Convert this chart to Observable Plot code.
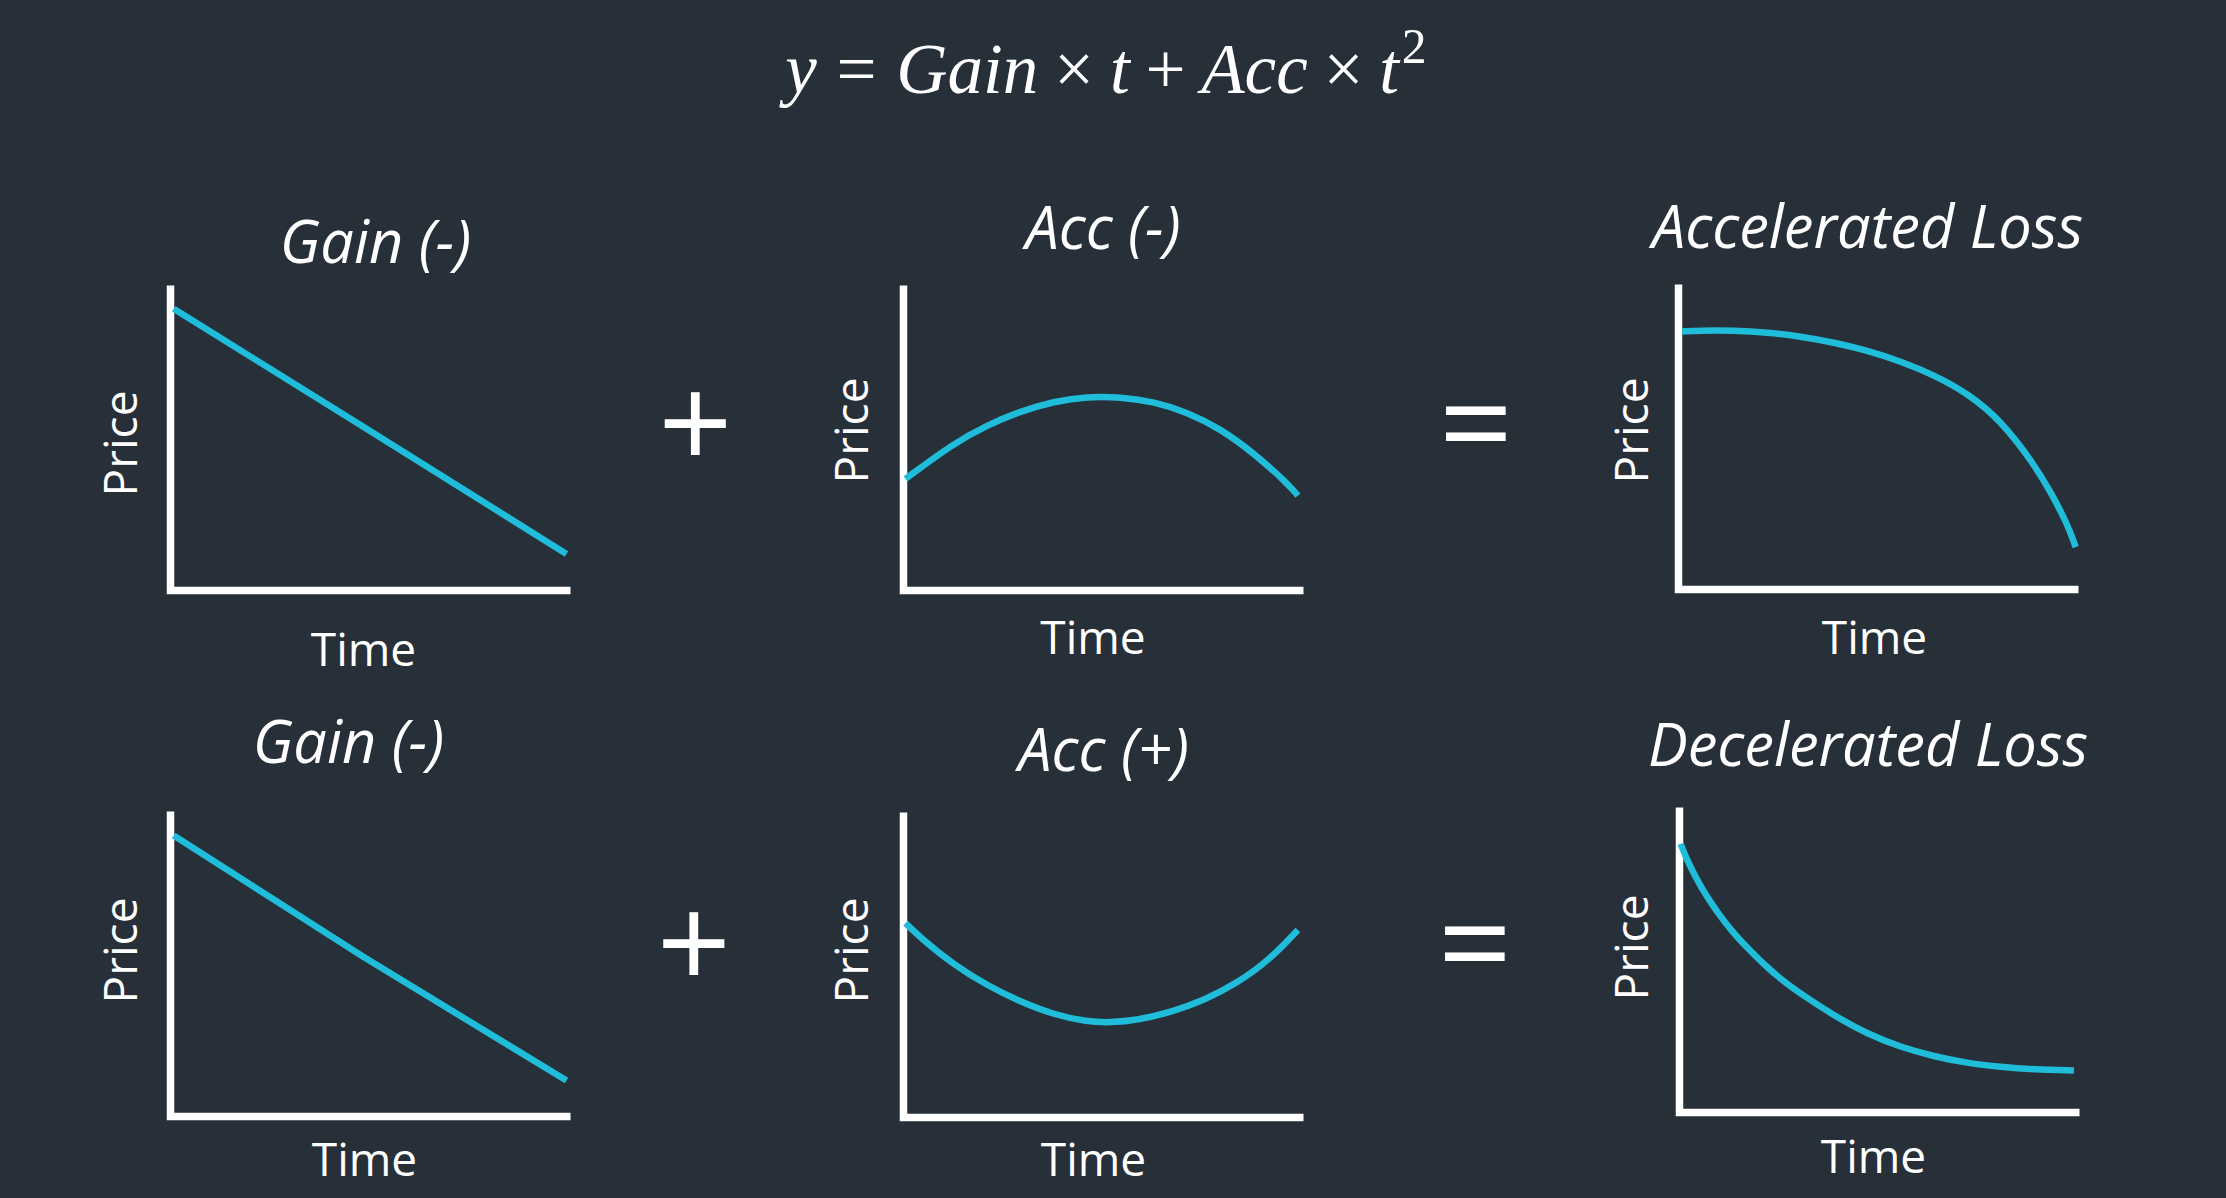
<!DOCTYPE html>
<html><head><meta charset="utf-8">
<script src="https://cdn.jsdelivr.net/npm/d3@7"></script>
<script src="https://cdn.jsdelivr.net/npm/@observablehq/plot@0.6"></script>
<style>
html,body{margin:0;padding:0;background:#272f39;}
#stage{position:relative;width:2226px;height:1198px;overflow:hidden;background:#272f39;}
#stage svg{position:absolute;}
</style></head>
<body><div id="stage"></div>
<script>
// ---- data ----
const timeDomain = [0, 10];
const priceDomain = [0, 100];
const panelTitles = ["Gain (-)", "Acc (-)", "Accelerated Loss", "Gain (-)", "Acc (+)", "Decelerated Loss"];
const xLabel = "Time";
const yLabel = "Price";
const formulaParts = ["y", "=", "Gain", "×", "t", "+", "Acc", "×", "t", "2"];
const operators = ["+", "=", "+", "="];

const gainTopTime = [0.08, 4.84, 9.9];
const gainTopPrice = [92.4, 53.5, 12.0];
const accNegTime = [0.05, 1.26, 2.09, 2.93, 3.76, 4.59, 5.43, 6.26, 7.09, 7.93, 8.76, 9.59, 9.86];
const accNegPrice = [36.6, 48.3, 54.2, 58.8, 62.0, 63.6, 63.4, 61.9, 58.5, 53.0, 45.0, 35.3, 31.1];
const accelLossTime = [0.09, 0.55, 1.38, 2.22, 3.05, 3.88, 4.72, 5.55, 6.38, 7.22, 8.05, 8.88, 9.3, 9.72, 9.93];
const accelLossPrice = [84.6, 84.9, 84.9, 84.3, 83.0, 81.0, 78.4, 74.8, 70.4, 64.4, 55.6, 41.3, 32.0, 21.6, 13.9];
const gainBotTime = [0.08, 4.84, 9.9];
const gainBotPrice = [92.1, 52.2, 11.8];
const accPosTime = [0.05, 0.43, 1.26, 2.09, 2.93, 3.76, 4.59, 5.18, 5.84, 6.68, 7.51, 8.34, 9.18, 9.86];
const accPosPrice = [63.7, 58.9, 50.0, 43.3, 37.9, 33.7, 31.4, 31.1, 31.9, 34.5, 38.4, 44.0, 52.0, 61.5];
const decelLossTime = [0.03, 0.19, 0.53, 0.94, 1.36, 1.78, 2.19, 2.61, 3.03, 3.86, 4.69, 5.53, 6.36, 7.19, 8.03, 8.86, 9.86];
const decelLossPrice = [88.1, 82.6, 73.9, 65.7, 58.6, 52.9, 47.6, 42.9, 38.9, 31.8, 25.8, 21.4, 18.4, 16.2, 14.9, 14.1, 13.8];

// ---- layout / style ----
const CYAN = "#20bdda", WHITE = "#ffffff";
const W = 400, H = 305;
const M = {top: 100, right: 20, bottom: 80, left: 90};
const layout = [
  {xL: 170,  yT: 285, title: [5, -23],     time: [-7, 75],    price: [-33.3, 5.5],  curve: "linear"},
  {xL: 903,  yT: 285, title: [-0.5, -37],  time: [-10.5, 63], price: [-36, -7.5],   curve: "basis"},
  {xL: 1678, yT: 284, title: [-11, -37],   time: [-4, 64],    price: [-31, -6.5],   curve: "basis"},
  {xL: 170,  yT: 811, title: [-22, -49],   time: [-6, 59],    price: [-33.3, -13.5], curve: "linear"},
  {xL: 903,  yT: 812, title: [0, -42],     time: [-10, 58],   price: [-36, -14.5],  curve: "basis"},
  {xL: 1679, yT: 807, title: [-11.5, -42], time: [-6, 60.7],  price: [-32, -12.5],  curve: "basis"}
];
const series = [
  [gainTopTime, gainTopPrice],
  [accNegTime, accNegPrice],
  [accelLossTime, accelLossPrice],
  [gainBotTime, gainBotPrice],
  [accPosTime, accPosPrice],
  [decelLossTime, decelLossPrice]
];

const stage = document.getElementById("stage");

series.forEach(([times, prices], i) => {
  const L = layout[i];
  const data = times.map((t, k) => ({t, p: prices[k]}));
  const frame = [
    {t: timeDomain[1], p: priceDomain[0]},
    {t: timeDomain[0], p: priceDomain[0]},
    {t: timeDomain[0], p: priceDomain[1]}
  ];
  const chart = Plot.plot({
    width: M.left + W + M.right,
    height: M.top + H + M.bottom,
    marginTop: M.top, marginRight: M.right, marginBottom: M.bottom, marginLeft: M.left,
    x: {domain: timeDomain, axis: null},
    y: {domain: priceDomain, axis: null},
    style: {background: "transparent", color: WHITE, fontFamily: "'Open Sans', sans-serif", overflow: "visible"},
    marks: [
      Plot.line(frame, {x: "t", y: "p", stroke: WHITE, strokeWidth: 7.5, strokeLinejoin: "miter", strokeLinecap: "butt", strokeMiterlimit: 10}),
      Plot.line(data, {x: "t", y: "p", stroke: CYAN, strokeWidth: 6.5, curve: L.curve, strokeLinecap: "butt"}),
      Plot.text([panelTitles[i]], {text: d => d, frameAnchor: "top", lineAnchor: "bottom", textAnchor: "middle",
        dx: L.title[0], dy: L.title[1], fontSize: 59.5, fontStyle: "italic", fill: WHITE}),
      Plot.text([xLabel], {text: d => d, frameAnchor: "bottom", lineAnchor: "bottom", textAnchor: "middle",
        dx: L.time[0], dy: L.time[1], fontSize: 46, fill: WHITE}),
      Plot.text([yLabel], {text: d => d, frameAnchor: "left", lineAnchor: "bottom", textAnchor: "middle", rotate: -90,
        dx: L.price[0], dy: L.price[1], fontSize: 46, fill: WHITE})
    ]
  });
  chart.style.left = (L.xL - M.left) + "px";
  chart.style.top = (L.yT - M.top) + "px";
  stage.appendChild(chart);
});

// ---- formula and operators (overlay text) ----
const NS = "http://www.w3.org/2000/svg";
const ov = document.createElementNS(NS, "svg");
ov.setAttribute("width", 2226); ov.setAttribute("height", 1198);
ov.style.left = "0px"; ov.style.top = "0px";
stage.appendChild(ov);

const FS = 71;
const ftext = document.createElementNS(NS, "text");
ftext.setAttribute("x", 1106); ftext.setAttribute("y", 93);
ftext.setAttribute("text-anchor", "middle");
ftext.setAttribute("font-family", "'Liberation Serif', serif");
ftext.setAttribute("font-size", FS);
ftext.setAttribute("fill", WHITE);
const italicParts = new Set(["y", "Gain", "t", "Acc"]);
const relParts = new Set(["="]);
const binParts = new Set(["×", "+"]);
formulaParts.forEach((s, k) => {
  const ts = document.createElementNS(NS, "tspan");
  ts.textContent = s;
  let dx = 0;
  if (k === formulaParts.length - 1) {
    ts.setAttribute("font-size", FS * 0.7);
    ts.setAttribute("dy", -FS * 0.42);
    dx = FS * 0.04;
  } else if (k > 0) {
    const prev = formulaParts[k - 1];
    if (relParts.has(s) || relParts.has(prev)) dx = FS * 0.2778;
    else if (binParts.has(s) || binParts.has(prev)) dx = FS * 0.2222;
  }
  if (italicParts.has(s)) ts.setAttribute("font-style", "italic");
  ts.setAttribute("dx", dx);
  ftext.appendChild(ts);
});
ov.appendChild(ftext);

const opPos = [[695.5, 424.5], [1476, 424.7], [694, 944], [1475, 944]];
operators.forEach((s, k) => {
  const t = document.createElementNS(NS, "text");
  t.setAttribute("x", opPos[k][0]);
  t.setAttribute("y", opPos[k][1] + 130 * 0.35);
  t.setAttribute("text-anchor", "middle");
  t.setAttribute("font-family", "'Open Sans', sans-serif");
  t.setAttribute("font-size", 130);
  t.setAttribute("fill", WHITE);
  t.textContent = s;
  ov.appendChild(t);
});
</script>
</body></html>
